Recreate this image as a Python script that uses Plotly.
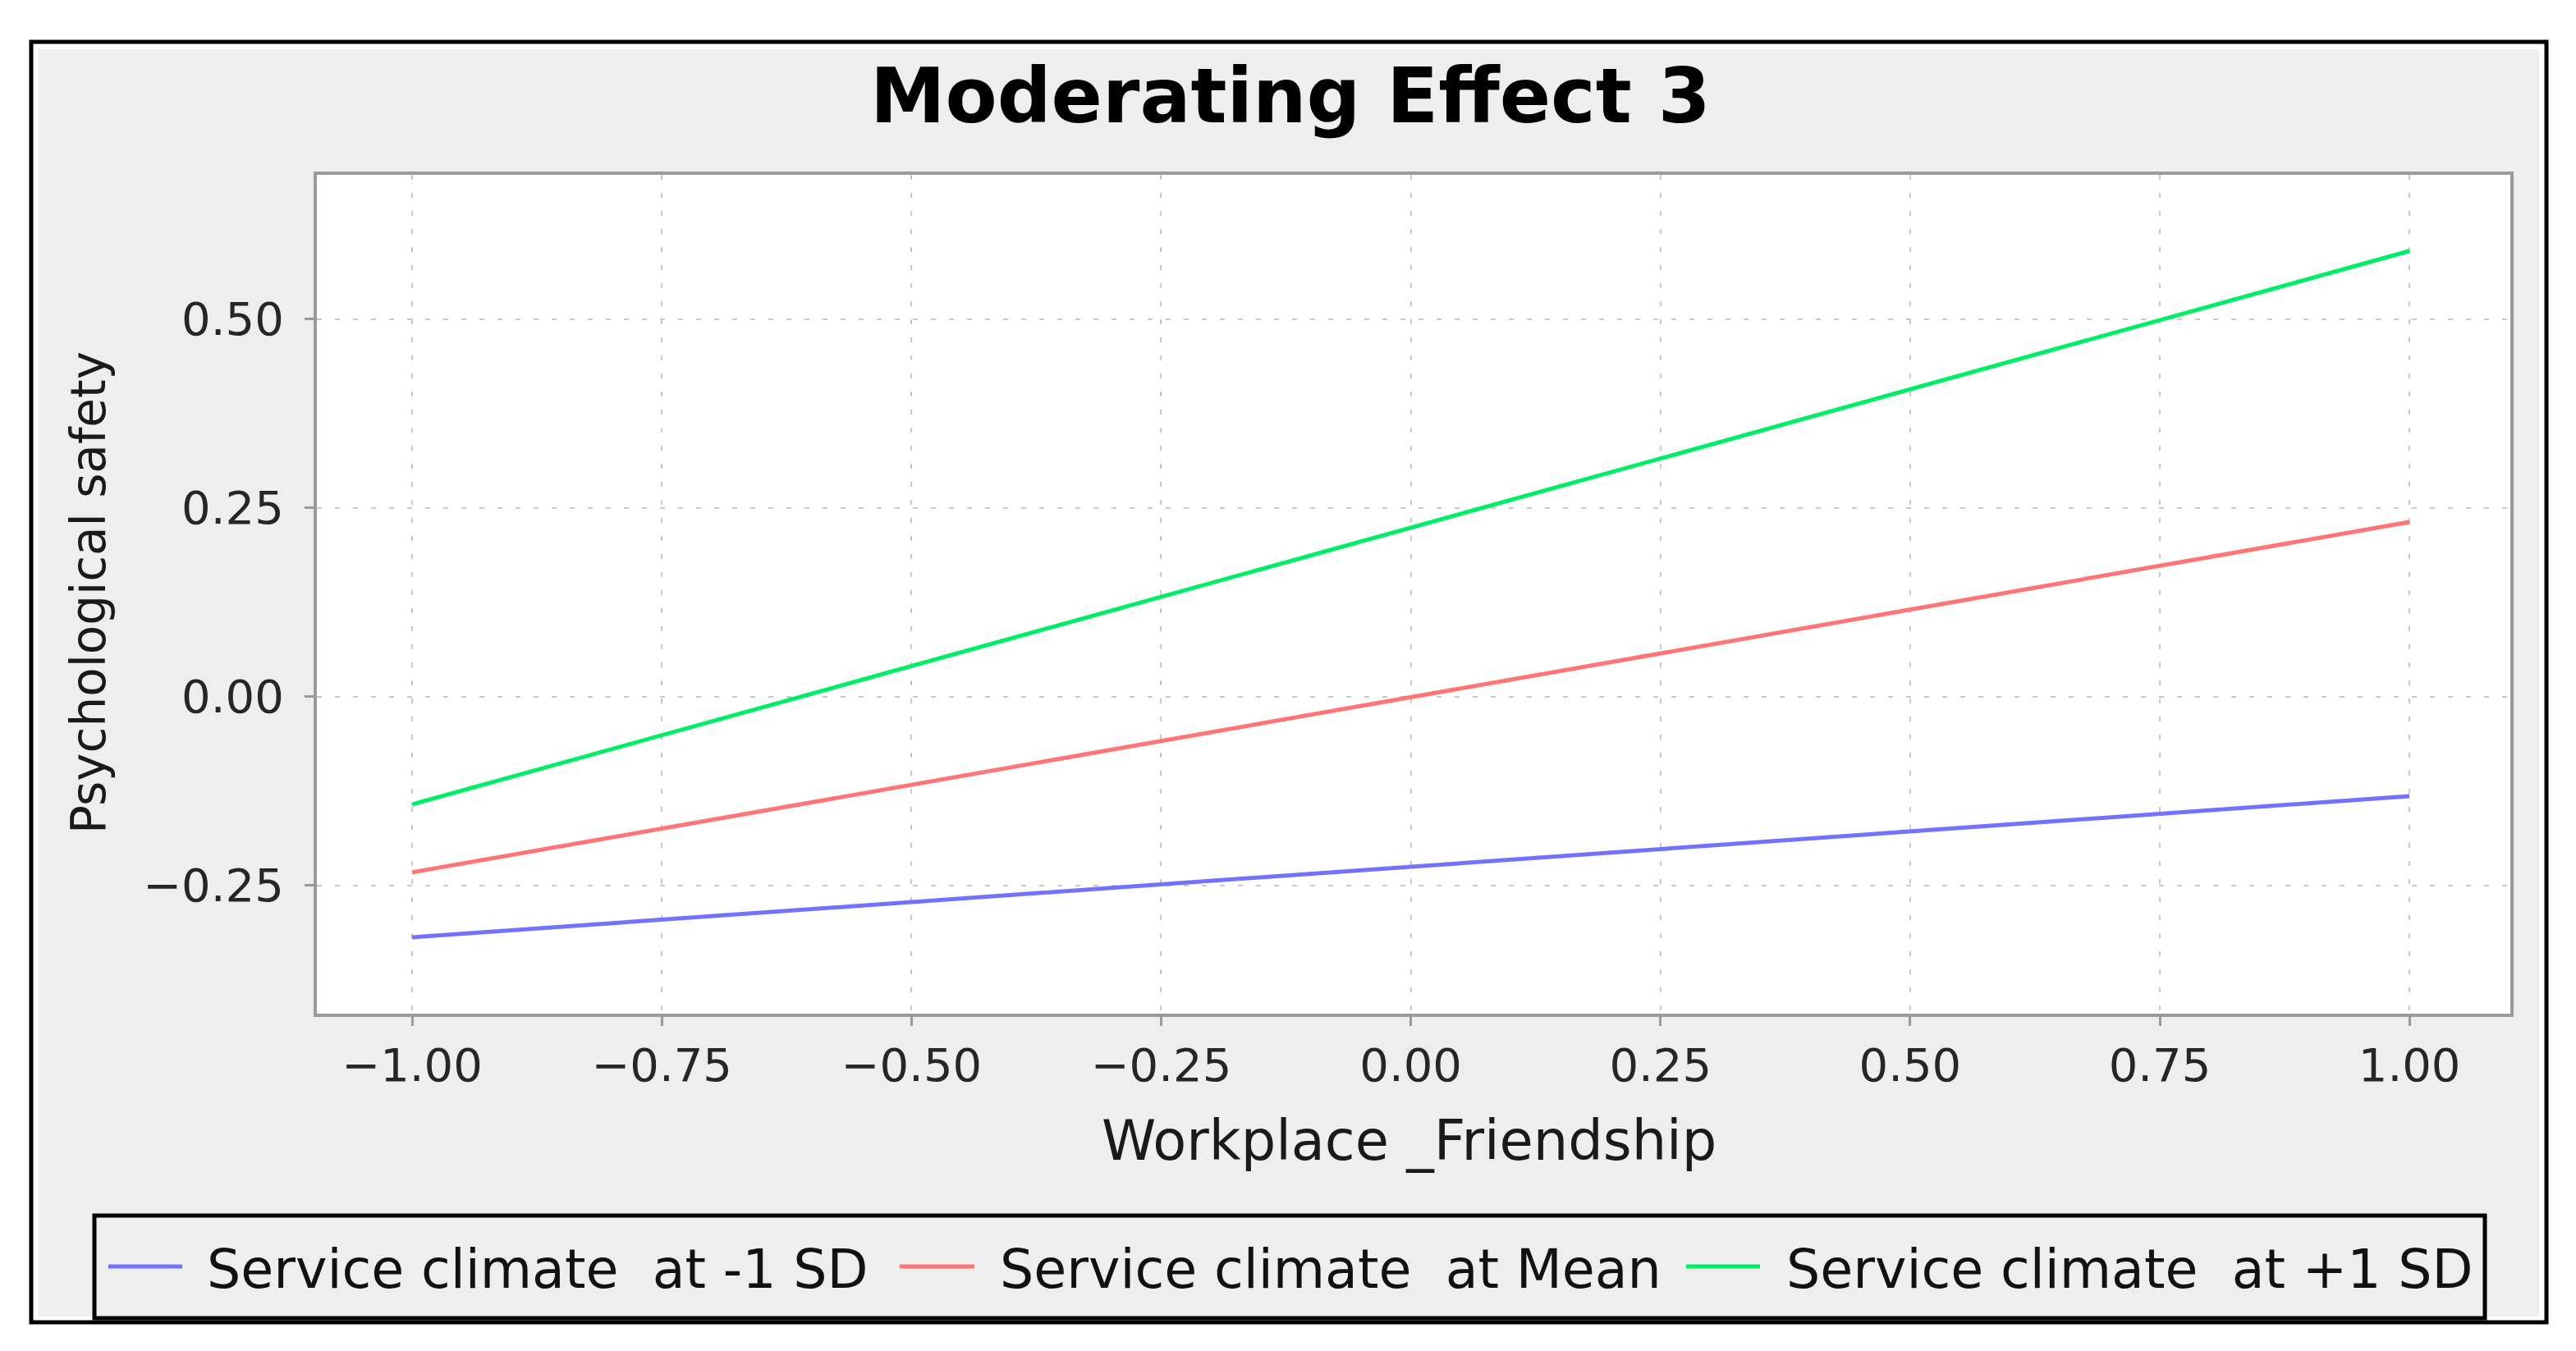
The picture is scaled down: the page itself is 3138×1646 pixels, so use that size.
import plotly.graph_objects as go

# ---------------- data ----------------
x_values = [-1.0, 1.0]
series_names = ["Service climate  at -1 SD", "Service climate  at Mean", "Service climate  at +1 SD"]
y_low = [-0.319, -0.132]
y_mean = [-0.233, 0.231]
y_high = [-0.143, 0.590]
series_values = [y_low, y_mean, y_high]
series_colors = ["#7272FF", "#FF7474", "#00EE66"]

title_text = "Moderating Effect 3"
x_title = "Workplace _Friendship"
y_title = "Psychological safety"
x_ticks = [-1.0, -0.75, -0.5, -0.25, 0.0, 0.25, 0.5, 0.75, 1.0]
y_ticks = [-0.25, 0.0, 0.25, 0.5]

# ---------------- layout geometry (pixels) ----------------
W, H = 3138, 1646
L, R, T, B = 386, 3058, 213, 1235
PW, PH = R - L, B - T
FONT = "DejaVu Sans"


def px(x):
    return (x - L) / PW


def py(y):
    return (B - y) / PH


fig = go.Figure()
for name, vals, col in zip(series_names, series_values, series_colors):
    fig.add_trace(go.Scatter(x=x_values, y=vals, mode="lines", name=name,
                             line=dict(color=col, width=5), showlegend=False))

shapes = []
# outer frame
shapes.append(dict(type="rect", xref="paper", yref="paper", layer="below",
                   x0=px(38), x1=px(3102), y0=py(1611), y1=py(51),
                   line=dict(color="black", width=5), fillcolor="white"))
shapes.append(dict(type="rect", xref="paper", yref="paper", layer="below",
                   x0=px(47), x1=px(3093), y0=py(1604), y1=py(60),
                   line=dict(width=0), fillcolor="#EEEEEE"))
# plot background
shapes.append(dict(type="rect", xref="paper", yref="paper", layer="below",
                   x0=0, x1=1, y0=0, y1=1, line=dict(width=0), fillcolor="white"))
# legend box
shapes.append(dict(type="rect", xref="paper", yref="paper", layer="above",
                   x0=px(115), x1=px(3027), y0=py(1606), y1=py(1481),
                   line=dict(color="black", width=5), fillcolor="rgba(0,0,0,0)"))

annotations = []
legend_sample_x = [(132, 222), (1096, 1187), (2054, 2144)]
legend_text_x = [250, 1216, 2174]
leg_y = 1543
for (sx0, sx1), tx, name, col in zip(legend_sample_x, legend_text_x, series_names, series_colors):
    shapes.append(dict(type="line", xref="paper", yref="paper", layer="above",
                       x0=px(sx0), x1=px(sx1), y0=py(leg_y), y1=py(leg_y),
                       line=dict(color=col, width=5)))
    annotations.append(dict(xref="paper", yref="paper", x=px(tx), y=py(leg_y + 3),
                            xanchor="left", yanchor="middle", showarrow=False,
                            text=name.replace("  ", "\u00a0 "),
                            font=dict(family=FONT, size=65, color="#111111")))

# title
annotations.append(dict(xref="paper", yref="paper", x=px(1572), y=py(118),
                        xanchor="center", yanchor="middle", showarrow=False,
                        text="<b>" + title_text + "</b>",
                        font=dict(family=FONT, size=92, color="black")))
# x title
annotations.append(dict(xref="paper", yref="paper", x=px(1716), y=py(1390),
                        xanchor="center", yanchor="middle", showarrow=False,
                        text=x_title, font=dict(family=FONT, size=67, color="#1a1a1a")))
# y title
annotations.append(dict(xref="paper", yref="paper", x=px(108), y=py(722),
                        xanchor="center", yanchor="middle", showarrow=False, textangle=-90,
                        text=y_title, font=dict(family=FONT, size=58, color="#1a1a1a")))

axis_common = dict(
    showline=True, mirror=True, linecolor="#9A9A9A", linewidth=4,
    showgrid=True, gridcolor="#C8C8C8", gridwidth=2, griddash="6px,16px",
    ticks="outside", ticklen=11, tickwidth=3, tickcolor="#9A9A9A",
    tickformat=".2f", zeroline=False,
    tickfont=dict(family=FONT, size=56, color="#262626"),
)

fig.update_layout(
    width=W, height=H,
    margin=dict(l=L, r=W - R, t=T, b=H - B, pad=0),
    paper_bgcolor="white", plot_bgcolor="white",
    showlegend=False,
    xaxis=dict(range=[-1.0954, 1.101], tickvals=x_ticks, ticklabelstandoff=0, **axis_common),
    yaxis=dict(range=[-0.4201, 0.6908], tickvals=y_ticks, ticklabelstandoff=14, **axis_common),
    shapes=shapes,
    annotations=annotations,
)

fig.write_html("out.html")
